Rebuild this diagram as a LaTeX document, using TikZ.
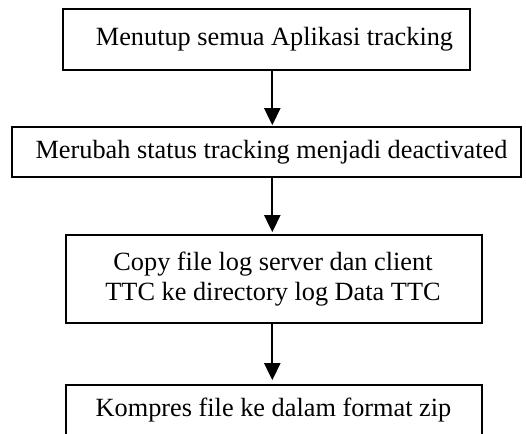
\documentclass[tikz,border=0pt]{standalone}
\usepackage{fontspec}
\setmainfont{Liberation Serif}
\usetikzlibrary{arrows.meta}
\tikzset{
  stepbox/.style={draw, line width=0.85pt, inner sep=0pt},
  steptext/.style={font=\fontsize{13.15}{15}\selectfont, align=center, inner sep=0pt},
  flow/.style={-{Triangle[length=8.5pt,width=8pt]}, line width=1.1pt}
}
\begin{document}
\begin{tikzpicture}[x=0.5pt,y=-0.5pt]
    \useasboundingbox (0,0) rectangle (526,434);
    % boxes
    \node[stepbox, minimum width=203.5pt, minimum height=30.5pt] (b1) at (266.5,39.5) {};
    \node[stepbox, minimum width=254.5pt, minimum height=25pt] (b2) at (266.5,152) {};
    \node[stepbox, minimum width=208pt, minimum height=44pt] (b3) at (274,279) {};
    \node[stepbox, minimum width=208pt, minimum height=28pt] (b4) at (274,413) {};
    % texts
    \node[steptext] (t1) at (274.5,39.5) {Menutup semua Aplikasi tracking};
    \node[steptext] (t2) at (271.5,152) {Merubah status tracking menjadi deactivated};
    \node[steptext] (t3) at (273,279) {Copy file log server dan client\\TTC ke directory log Data TTC};
    \node[steptext] (t4) at (273.5,410) {Kompres file ke dalam format zip};
    % arrows
    \coordinate (ax) at (272.3,0);
    \draw[flow] (b1.south -| ax) -- ([yshift=0.5pt]b2.north -| ax);
    \draw[flow] (b2.south -| ax) -- ([yshift=1pt]b3.north -| ax);
    \draw[flow] (b3.south -| ax) -- ([yshift=2pt]b4.north -| ax);
\end{tikzpicture}
\end{document}
